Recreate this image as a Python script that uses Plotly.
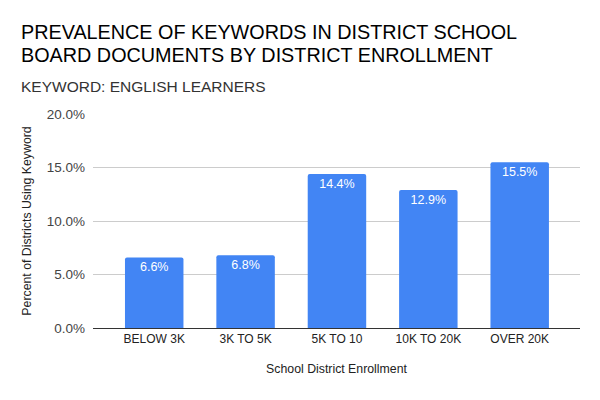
import plotly.graph_objects as go

categories = ["BELOW 3K", "3K TO 5K", "5K TO 10", "10K TO 20K", "OVER 20K"]
values = [6.6, 6.8, 14.4, 12.9, 15.5]
labels = ["6.6%", "6.8%", "14.4%", "12.9%", "15.5%"]
y_ticks = [0, 5, 10, 15, 20]
y_tick_labels = ["0.0%", "5.0%", "10.0%", "15.0%", "20.0%"]

FONT = "Arial, 'Liberation Sans', sans-serif"

fig = go.Figure(go.Bar(
    x=categories, y=values, text=labels,
    textposition="inside", insidetextanchor="end",
    textfont=dict(color="white", size=12.5, family=FONT),
    marker=dict(color="#4285F4", cornerradius=2, line=dict(width=0)),
    width=0.64, cliponaxis=False,
))

fig.update_layout(
    width=600, height=400,
    margin=dict(l=93, r=20, t=114, b=72),
    paper_bgcolor="white", plot_bgcolor="white",
    showlegend=False,
    font=dict(family=FONT, color="#222222"),
    xaxis=dict(
        range=[-0.67, 4.66], showgrid=False, ticks="", tickfont=dict(size=12, color="#222222"),
        showline=True, linecolor="#333333", linewidth=1,
        title=dict(text="School District Enrollment", font=dict(size=12.3, color="#222222"), standoff=18),
    ),
    yaxis=dict(
        range=[0, 20], tickvals=y_ticks, ticktext=y_tick_labels,
        tickfont=dict(size=13.5, color="#444444"),
        showgrid=True, gridcolor="#cccccc", gridwidth=1, zeroline=False, ticks="",
        ticklabelstandoff=7,
        title=dict(text="Percent of Districts Using Keyword", font=dict(size=12.3, color="#222222"), standoff=12),
    ),
    annotations=[
        dict(text="PREVALENCE OF KEYWORDS IN DISTRICT SCHOOL",
             x=19, y=32, xref="paper", yref="paper", showarrow=False, align="left",
             xanchor="left", yanchor="middle", font=dict(size=19.8, color="#000000", family=FONT)),
        dict(text="BOARD DOCUMENTS BY DISTRICT ENROLLMENT",
             x=19, y=55.5, xref="paper", yref="paper", showarrow=False, align="left",
             xanchor="left", yanchor="middle", font=dict(size=19.8, color="#000000", family=FONT)),
        dict(text="KEYWORD: ENGLISH LEARNERS",
             x=19, y=86, xref="paper", yref="paper", showarrow=False, align="left",
             xanchor="left", yanchor="middle", font=dict(size=15.5, color="#333333", family=FONT)),
    ],
)

# place annotations in pixel coords via paper conversion
pw = 600 - 93 - 20
ph = 400 - 114 - 72
for a in fig.layout.annotations:
    px, py = a.x, a.y
    a.x = (px - 93) / pw
    a.y = 1 + (114 - py) / ph

fig.write_html("out.html")
